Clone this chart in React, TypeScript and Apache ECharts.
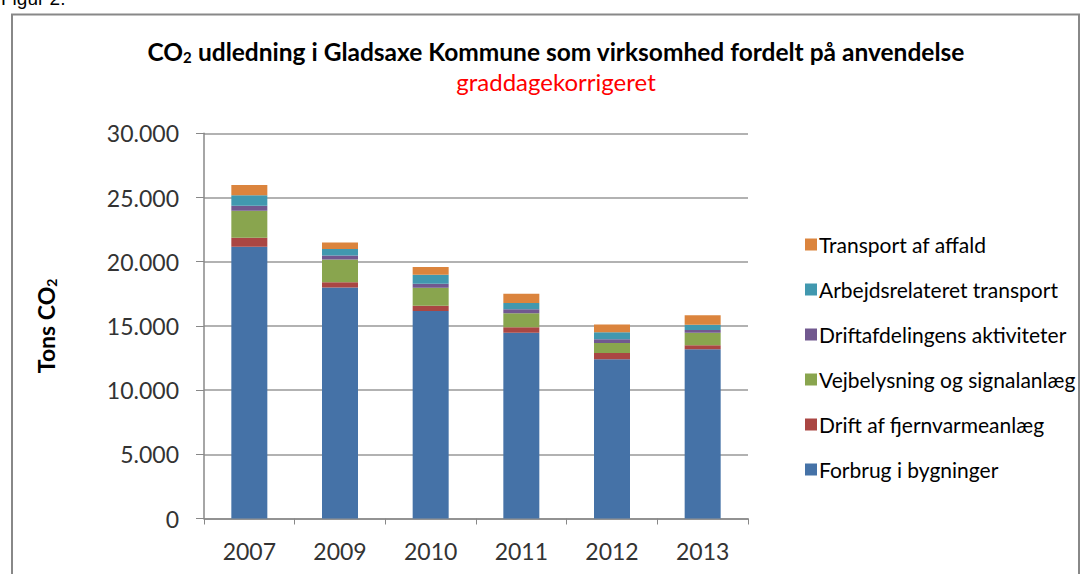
import React, { useEffect, useRef } from "react";
import * as echarts from "echarts";

const years = ["2007", "2009", "2010", "2011", "2012", "2013"];
const forbrugBygninger = [21170, 18000, 16160, 14470, 12400, 13180];
const driftFjernvarme = [700, 390, 410, 420, 490, 310];
const vejbelysning = [2100, 1790, 1400, 1090, 780, 980];
const driftafdeling = [390, 310, 310, 310, 290, 210];
const arbejdsTransport = [810, 490, 700, 490, 550, 410];
const transportAffald = [800, 520, 600, 720, 590, 730];
const yTicks = [0, 5000, 10000, 15000, 20000, 25000, 30000];

const seriesDefs = [
  { name: "Forbrug i bygninger", data: forbrugBygninger, color: "#4572A7" },
  { name: "Drift af fjernvarmeanlæg", data: driftFjernvarme, color: "#AA4643" },
  { name: "Vejbelysning og signalanlæg", data: vejbelysning, color: "#89A54E" },
  { name: "Driftafdelingens aktiviteter", data: driftafdeling, color: "#71588F" },
  { name: "Arbejdsrelateret transport", data: arbejdsTransport, color: "#4198AF" },
  { name: "Transport af affald", data: transportAffald, color: "#DB843D" },
];

const FONT = "Lato";

function fmt(v: number): string {
  if (v === 0) return "0";
  const s = String(v);
  return s.slice(0, s.length - 3) + "." + s.slice(s.length - 3);
}

export default function App() {
  const ref = useRef<HTMLDivElement>(null);
  useEffect(() => {
    if (!ref.current) return;
    const chart = echarts.init(ref.current, undefined, { renderer: "svg" });
    chart.setOption({
      animation: false,
      backgroundColor: "#ffffff",
      graphic: [
        {
          type: "text",
          x: 1,
          y: -11,
          style: { text: "Figur 2.", fontSize: 19, fontFamily: "Liberation Sans", fill: "#000" },
        },
        {
          type: "rect",
          shape: { x: 12, y: 14.5, width: 1067, height: 600 },
          style: { fill: "none", stroke: "#888", lineWidth: 2 },
          silent: true,
        },
      ],
      title: {
        text: "{b|CO}{s|2}{b| udledning i Gladsaxe Kommune som virksomhed fordelt på anvendelse}",
        subtext: "graddagekorrigeret",
        left: 551,
        textAlign: "center",
        top: 34,
        itemGap: 5,
        textStyle: {
          rich: {
            b: { fontFamily: FONT, fontWeight: "bold", fontSize: 24.5, color: "#000" },
            s: { fontFamily: FONT, fontWeight: "bold", fontSize: 15, color: "#000", verticalAlign: "bottom", padding: [10, 0, 0, 0] },
          },
        },
        subtextStyle: { fontFamily: FONT, fontSize: 24, color: "#ff0000" },
      },
      legend: {
        orient: "vertical",
        left: 800,
        top: 229,
        itemWidth: 12,
        itemHeight: 12,
        itemGap: 24,
        icon: "rect",
        data: seriesDefs.map((s) => s.name).reverse(),
        textStyle: { fontFamily: FONT, fontSize: 21, color: "#000", padding: [0, 0, 0, -3] },
      },
      grid: { left: 204, right: 334, top: 133.3, bottom: 55.5 },
      xAxis: {
        type: "category",
        data: years,
        axisLine: { lineStyle: { color: "#888", width: 1.5 } },
        axisTick: { show: true, alignWithLabel: false, length: 6, lineStyle: { color: "#888" } },
        axisLabel: { fontFamily: FONT, fontSize: 23, color: "#333", margin: 21 },
      },
      yAxis: {
        type: "value",
        min: 0,
        max: 30000,
        interval: 5000,
        name: "{b|Tons CO}{s|2}",
        nameLocation: "middle",
        nameGap: 146,
        nameRotate: 90,
        nameTextStyle: {
          rich: {
            b: { fontFamily: FONT, fontWeight: "bold", fontSize: 23, color: "#000" },
            s: { fontFamily: FONT, fontWeight: "bold", fontSize: 14, color: "#000", verticalAlign: "bottom", padding: [10, 0, 0, 0] },
          },
        },
        axisLine: { show: true, lineStyle: { color: "#888", width: 1.5 } },
        axisTick: { show: true, inside: false, length: 8, lineStyle: { color: "#888" } },
        splitLine: { lineStyle: { color: "#999", width: 1.5 } },
        axisLabel: {
          fontFamily: FONT,
          fontSize: 23,
          color: "#333",
          margin: 25,
          formatter: (v: number) => (yTicks.includes(v) ? fmt(v) : ""),
        },
      },
      series: seriesDefs.map((s) => ({
        name: s.name,
        type: "bar",
        stack: "total",
        data: s.data,
        barWidth: 36,
        itemStyle: { color: s.color },
      })),
    });
    return () => chart.dispose();
  }, []);
  return <div ref={ref} style={{ position: "fixed", left: 0, top: 0, width: 1082, height: 574 }} />;
}
